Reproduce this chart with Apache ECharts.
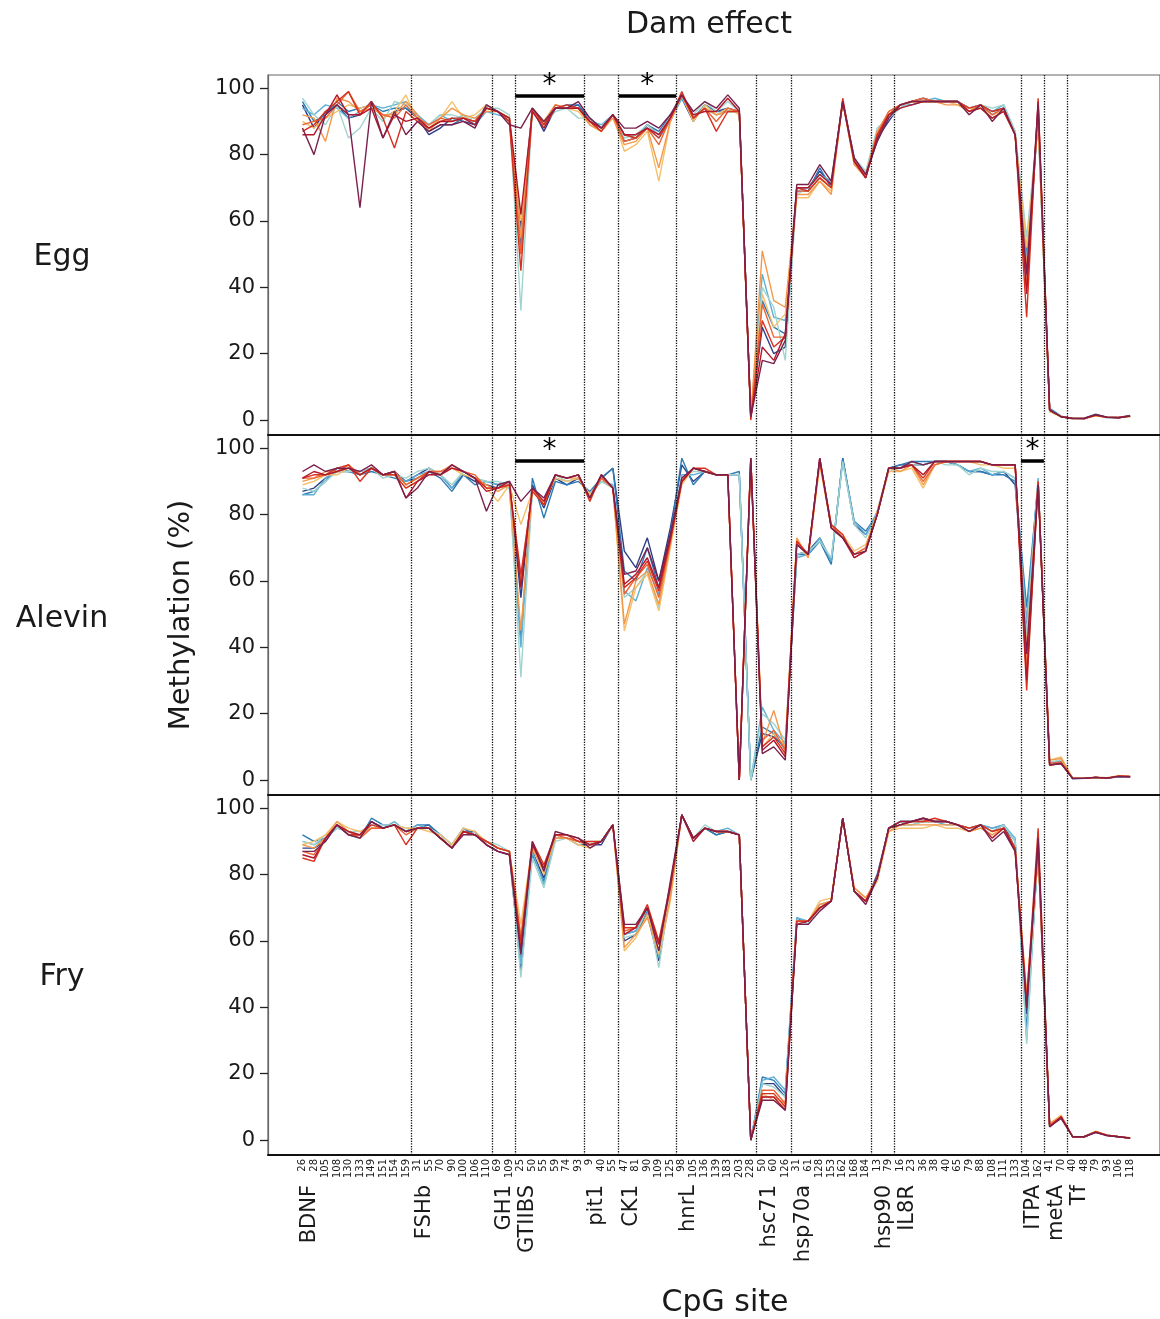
<!DOCTYPE html>
<html>
<head>
<meta charset="utf-8">
<script src="https://cdn.jsdelivr.net/npm/echarts@6/dist/echarts.min.js"></script>
<style>
	html, body { margin: 0; padding: 0; background: #fff; }
	#chart { width: 1160px; height: 1319px; }
</style>
</head>
<body>
<div id="chart"></div>
<script>
var cpgSites = [
	'26','28','105','108','130','133','149','151','154','159',
	'31','55','70','90','100','106','110',
	'69','109',
	'25','50','55','59','74','93',
	'9','40','55',
	'47','81','90','109','125',
	'98','105','136','139','183','203','228',
	'50','60','126',
	'31','61','128','153','162','168','184',
	'13','79',
	'16','23','36','38','40','65','79','88','108','111','133',
	'104','162',
	'41','70',
	'40','48','79','93','106','118'
];
var genes     = ['BDNF','FSHb','GH1','GTIIBS','pit1','CK1','hnrL','hsc71','hsp70a','hsp90','IL8R','ITPA','metA','Tf'];
var geneSizes = [10, 7, 2, 6, 3, 5, 7, 3, 7, 2, 11, 2, 2, 6];

var stageNames = ['Egg', 'Alevin', 'Fry'];
var damColors  = ['#2d3e86', '#2b7bb5', '#5fb0d6', '#9fd4cf', '#f4c06a', '#f3984a', '#ec6435', '#d7301f', '#b2182b', '#7b1f4b'];

// significant genes per stage (bars with *)
var eggSigGenes    = ['GTIIBS', 'CK1'];
var alevinSigGenes = ['GTIIBS', 'ITPA'];
var frySigGenes    = [];

var eggDams = [
	[95,88,93,95,91,92,96,91,93,94, 91,86,88,91,90,89,95,93,90, 58,94,87,94,94,95, 90,87,92, 84,85,89,86,91, 97,90,95,93,94,93,1, 28,20,22, 70,70,75,71,96,79,74, 85,90, 95,96,97,96,96,96,94,95,93,94,86, 42,92, 3,1, 0.5,0.4,1.6,0.8,0.7,1.3],
	[96,90,92,96,93,94,95,93,94,94, 92,87,89,89,91,90,94,93,91, 52,94,89,94,95,95, 91,88,92, 86,85,89,87,92, 97,91,95,93,93,93,1.5, 36,28,26, 69,69,76,70,96,78,74, 84,92, 95,95,96,96,96,96,93,95,92,94,86, 50,90, 3.5,1.2, 0.5,0.6,1.8,0.9,0.8,1.4],
	[94,92,95,94,91,93,95,94,95,96, 92,89,92,90,92,89,93,92,91, 55,94,90,94,94,94, 90,89,92, 86,86,88,85,90, 97,91,94,92,93,93,1, 44,31,30, 70,70,74,72,96,78,73, 86,92, 94,96,96,97,96,96,94,95,93,95,87, 48,91, 3,1, 0.4,0.5,1.5,0.7,0.8,1.2],
	[97,92,89,95,85,88,94,90,96,95, 91,89,92,92,91,91,94,94,92, 33,94,89,93,94,91, 91,88,92, 85,86,89,86,91, 98,92,96,93,96,93,1, 40,34,18, 68,70,73,70,96,79,75, 88,91, 94,96,96,96,96,96,94,95,94,95,87, 55,90, 3,1, 0.5,0.5,1.4,0.8,0.9,1],
	[90,88,91,93,95,94,95,91,93,98, 90,88,91,96,91,92,95,93,91, 60,93,90,95,94,93, 89,87,92, 81,83,87,72,90, 98,90,95,92,94,92,1, 38,28,32, 67,67,72,69,96,77,74, 86,92, 95,96,96,96,96,95,94,94,92,93,86, 52,90, 2.5,1, 0.5,0.5,1.2,0.8,0.8,1],
	[92,91,84,97,96,93,94,92,92,96, 92,87,91,94,92,91,93,93,91, 55,94,90,95,94,94, 89,87,91, 83,84,88,76,90, 98,91,94,92,93,93,0.5, 51,36,34, 68,68,72,68,96,77,73, 87,93, 95,96,96,96,95,95,93,94,91,93,86, 46,92, 3,1, 0.6,0.5,1.3,0.9,0.7,1.1],
	[89,90,91,95,99,93,95,92,91,95, 91,89,91,90,91,90,94,93,91, 50,93,89,95,94,94, 90,88,92, 84,85,88,83,91, 98,91,94,90,94,93,0.5, 35,25,25, 69,69,73,70,96,78,74, 86,93, 95,96,97,96,96,96,93,95,92,94,86, 40,93, 3,1, 0.4,0.5,1.4,0.8,0.8,1.2],
	[87,89,93,96,99,92,96,91,82,93, 90,88,90,91,91,90,94,93,90, 45,94,89,94,95,94, 90,87,92, 86,85,88,85,91, 99,91,94,87,93,93,0, 30,22,25, 70,69,73,70,97,78,73, 86,92, 95,96,96,96,96,96,94,95,93,94,86, 31,97, 3,1, 0.5,0.4,1.5,0.8,0.8,1.2],
	[86,86,92,98,92,92,94,85,92,90, 91,88,90,90,91,89,94,93,91, 62,93,88,94,94,94, 90,88,92, 86,86,88,86,91, 98,92,93,93,97,93,1, 22,18,26, 70,70,74,71,96,78,73, 85,92, 94,95,96,96,96,96,93,94,91,93,86, 38,96, 3,1, 0.5,0.5,1.6,0.8,0.7,1.3],
	[88,80,92,95,92,64,96,85,93,86, 90,87,89,89,90,88,95,93,89, 88,94,90,94,94,96, 91,88,92, 88,88,90,88,92, 98,93,96,94,98,94,1, 18,17,24, 71,71,77,72,96,79,74, 84,91, 95,96,96,96,96,96,92,95,90,94,86, 44,95, 3,1, 0.5,0.5,1.6,0.9,0.7,1.2]
];

var alevinDams = [
	[87,88,91,93,93,93,94,92,93,90, 92,94,92,88,92,90,89,88,90, 55,89,82,91,89,91, 86,91,94, 69,64,73,60,76, 95,90,93,92,92,92,0, 14,13,10, 68,69,73,66,97,77,74, 80,94, 95,95,95,96,96,95,93,93,92,93,89, 45,90, 5,5.5, 0.4,0.5,0.8,0.6,1,1],
	[86,87,90,94,93,92,93,92,91,90, 91,93,91,87,92,89,90,89,90, 42,91,79,90,89,90, 87,91,94, 63,60,70,58,74, 97,89,93,92,92,93,0, 16,14,9, 68,68,72,65,97,78,75, 80,94, 95,96,96,96,96,95,93,93,92,92,90, 52,90, 5,5, 0.5,0.5,0.8,0.6,1,0.8],
	[86,86,91,93,94,92,94,92,92,90, 92,93,92,88,93,91,90,89,88, 40,88,84,91,90,91, 86,90,89, 57,54,64,56,72, 92,92,93,92,92,92,0, 22,15,11, 67,68,73,66,96,78,74, 81,94, 94,96,95,96,96,95,93,94,92,93,91, 48,91, 5,6, 0.5,0.6,0.8,0.6,1,1],
	[88,87,90,93,93,93,94,91,92,91, 93,94,92,89,93,91,90,90,89, 31,87,84,92,90,91, 86,90,88, 55,58,63,52,71, 91,93,93,92,92,92,0, 20,17,12, 68,69,72,67,96,77,73, 80,93, 94,95,95,96,95,95,92,94,93,93,91, 44,90, 5.5,6, 0.5,0.5,0.7,0.6,1.2,1],
	[89,90,92,92,94,92,94,92,92,88, 90,93,92,94,92,91,88,84,89, 77,87,84,91,90,91, 86,91,88, 45,58,62,51,70, 89,94,93,92,92,0,97, 10,14,10, 72,67,95,76,74,69,71, 80,93, 93,94,88,95,96,96,96,95,95,94,94, 40,90, 6,7, 0.5,0.6,0.8,0.6,1.2,1.1],
	[90,91,93,93,95,92,94,92,93,89, 91,93,93,95,93,91,89,87,89, 45,88,83,92,91,91, 85,91,88, 47,60,63,53,71, 90,94,93,92,92,0,97, 11,21,9, 73,67,96,76,73,68,70, 81,94, 93,95,89,95,96,96,96,96,95,95,95, 35,90, 6,6.5, 0.5,0.6,0.9,0.7,1.3,1.2],
	[91,91,92,93,95,92,94,92,93,89, 91,93,93,94,93,92,88,88,89, 60,88,83,92,91,92, 85,91,88, 56,61,65,55,72, 90,94,93,92,92,0,97, 12,15,9, 72,68,96,77,73,68,70, 80,94, 94,95,90,95,96,96,96,96,95,95,95, 32,90, 5,5.5, 0.5,0.5,0.8,0.6,1.2,1],
	[91,92,92,94,95,90,94,92,92,88, 90,93,92,95,93,91,88,88,89, 62,87,83,92,91,92, 84,92,88, 58,61,66,57,72, 90,94,94,92,92,0,97, 10,13,8, 72,68,97,77,74,67,69, 80,94, 94,95,91,96,96,96,96,96,95,95,95, 27,90, 4.5,5, 0.5,0.5,0.8,0.6,1.2,1.1],
	[91,93,92,93,94,92,94,92,93,85, 90,92,92,94,93,91,87,88,90, 58,88,84,92,91,92, 85,92,88, 59,62,67,58,73, 90,94,93,92,92,0,97, 9,12,7, 71,68,97,76,73,67,69, 80,94, 94,95,92,96,96,96,96,96,95,95,95, 30,89, 4.5,5, 0.5,0.5,0.8,0.6,1.1,1],
	[93,95,93,94,94,93,95,92,93,85, 88,93,92,95,93,91,81,89,90, 84,88,85,92,91,92, 85,92,88, 62,63,70,60,74, 91,94,93,92,92,0,97, 8,10,6, 71,68,97,76,73,68,69, 80,94, 94,96,95,96,96,96,96,96,95,95,95, 38,89, 4.5,5, 0.5,0.5,0.8,0.6,1.1,1]
];

var fryDams = [
	[88,88,90,95,92,92,96,94,95,93, 94,95,91,88,93,93,89,87,86, 51,87,79,91,91,89, 89,89,95, 60,62,68,54,74, 98,91,94,92,93,92,0, 17,17,13, 66,66,70,72,97,75,72, 80,94, 96,96,97,96,96,95,94,95,93,95,88, 38,87, 4,7, 1,1,2.5,1.4,1,0.6],
	[92,90,91,95,92,91,97,95,95,93, 95,95,92,89,94,92,90,88,87, 55,86,78,91,91,90, 89,90,95, 62,63,69,56,75, 98,91,94,92,93,92,0, 19,18,14, 67,65,70,72,97,75,72, 79,94, 96,96,96,96,96,95,93,95,94,95,90, 33,88, 4.5,7, 1,1,2.3,1.5,1,0.6],
	[90,89,91,94,93,92,96,94,96,93, 95,94,92,89,93,92,90,88,87, 53,87,77,91,91,90, 89,90,95, 62,63,70,55,76, 98,91,94,93,94,92,0, 18,19,15, 67,66,71,72,97,75,72, 79,94, 95,95,96,96,95,95,94,95,94,95,91, 30,88, 4.5,7, 1,1,2.5,1.5,1,0.6],
	[90,89,92,94,93,93,95,95,95,94, 94,94,92,89,93,92,90,89,87, 49,85,76,90,91,89, 90,90,95, 61,62,70,52,75, 98,91,95,93,93,92,0, 17,16,13, 66,65,70,72,97,75,72, 78,93, 95,95,96,96,96,95,94,95,93,95,90, 29,89, 4.5,7.5, 1,1,2.6,1.5,1,0.6],
	[89,90,92,96,94,93,94,94,95,94, 94,93,92,89,94,93,90,88,87, 65,89,80,91,91,89, 88,90,95, 57,61,68,56,72, 98,91,94,93,93,92,0, 14,12,10, 66,66,72,73,97,76,73, 78,93, 94,94,94,95,94,94,93,94,92,94,88, 42,87, 5,7.5, 1,1,2.6,1.4,1,0.7],
	[89,88,91,96,93,92,94,94,95,93, 94,94,91,88,93,92,90,88,87, 62,88,81,91,91,90, 89,90,95, 58,62,67,57,73, 98,91,94,93,93,92,0, 13,13,11, 66,66,71,72,97,76,73, 79,93, 95,95,95,95,95,95,93,94,92,94,88, 44,88, 5,7, 1,1,2.6,1.5,1,0.7],
	[87,86,91,95,93,91,94,94,95,92, 94,94,91,88,93,92,90,88,87, 59,89,82,92,91,90, 89,90,95, 63,64,70,59,76, 98,91,94,93,93,92,0, 15,15,11, 66,66,70,72,97,75,72, 79,94, 95,96,96,96,96,95,94,95,93,94,88, 41,88, 4.5,7, 1,1,2.5,1.4,1,0.6],
	[85,84,91,95,92,92,95,94,95,89, 94,94,91,88,93,92,90,88,87, 60,90,83,92,92,90, 90,90,95, 64,64,71,60,77, 98,91,94,93,93,92,0, 14,14,10, 66,66,70,72,97,75,72, 79,94, 95,96,96,97,96,95,94,95,93,94,88, 42,94, 4,7, 1,1,2.5,1.5,1,0.6],
	[86,85,91,95,93,92,96,94,95,93, 94,94,91,88,93,92,89,87,86, 57,89,82,92,92,91, 89,90,95, 62,64,70,59,76, 98,90,94,93,93,92,0, 13,13,9, 65,66,70,72,97,75,72, 79,94, 96,96,97,96,96,95,93,95,91,94,87, 40,90, 4,7, 1,1,2.3,1.4,1,0.6],
	[87,87,90,95,92,91,96,94,95,93, 94,94,91,88,92,92,89,87,86, 56,90,81,93,92,91, 88,90,95, 65,65,70,57,78, 98,91,94,93,93,92,0, 12,12,9, 65,65,69,72,97,75,71, 79,94, 95,96,97,96,96,95,93,95,90,93,87, 40,91, 4,6.5, 1,1,2.3,1.3,1,0.6]
];


var chartRootElement = document.getElementById('chart');
var echart = echarts.init(chartRootElement, null, { renderer: 'canvas' });

var fontFamily = '"DejaVu Sans", Verdana, sans-serif';
var textColor = '#1a1a1a';

// gene start indices and gene boundaries (between consecutive genes)
var geneStarts = [];
var geneBoundaries = [];
(function () {
	var pos = 0;
	for (var g = 0; g < geneSizes.length; g++) {
		geneStarts.push(pos);
		if (g > 0) geneBoundaries.push(pos - 0.5);
		pos += geneSizes[g];
	}
})();

var panelTops = [75, 435, 795];
var panelHeight = 360;
var sigBarY = [97.8, 96.2, 96.2];
var stages = [eggDams, alevinDams, fryDams];
var stageSig = [eggSigGenes, alevinSigGenes, frySigGenes];

function makeMarkLine(p) {
	var data = geneBoundaries.map(function (b) {
		return { xAxis: b };
	});
	stageSig[p].forEach(function (name) {
		var g = genes.indexOf(name);
		var x0 = geneStarts[g] - 0.5;
		var x1 = geneStarts[g] + geneSizes[g] - 0.5;
		data.push([
			{
				coord: [x0, sigBarY[p]],
				lineStyle: { type: 'solid', width: 3.5, color: '#000' },
				label: {
					show: true,
					formatter: '*',
					position: 'middle',
					distance: -4,
					fontSize: 28,
					fontFamily: fontFamily,
					color: '#000'
				}
			},
			{ coord: [x1, sigBarY[p]] }
		]);
	});
	return {
		silent: true,
		symbol: 'none',
		animation: false,
		label: { show: false },
		lineStyle: { type: 'dotted', color: '#111', width: 1.3 },
		data: data
	};
}

var grids = [];
var xAxes = [];
var yAxes = [];
var series = [];

for (var p = 0; p < 3; p++) {
	grids.push({
		left: 268,
		right: 0,
		top: panelTops[p],
		height: panelHeight,
		show: true,
		borderColor: '#666',
		borderWidth: 1.2
	});

	xAxes.push({
		type: 'value',
		gridIndex: p,
		min: -3,
		max: 74.6,
		interval: 1,
		axisLine: { show: true, onZero: false, lineStyle: { color: '#111', width: 2 } },
		axisTick: { show: false },
		splitLine: { show: false },
		axisLabel: {
			show: p === 2,
			rotate: 90,
			margin: 4,
			fontSize: 10,
			fontFamily: fontFamily,
			color: textColor,
			showMinLabel: true,
			showMaxLabel: false,
			formatter: function (v) {
				return (v >= 0 && v < cpgSites.length && v === Math.round(v)) ? cpgSites[v] : '';
			}
		}
	});

	yAxes.push({
		type: 'value',
		gridIndex: p,
		min: -4.5,
		max: 104,
		splitNumber: 5,
		name: p === 1 ? 'Methylation (%)' : '',
		nameLocation: 'middle',
		nameRotate: 90,
		nameGap: 72,
		nameTextStyle: { fontSize: 29, fontFamily: fontFamily, color: textColor },
		axisLine: { show: true, onZero: false, lineStyle: { color: '#666', width: 1.2 } },
		axisTick: { show: true, inside: false, length: 8, lineStyle: { color: '#222', width: 1.3 } },
		splitLine: { show: false },
		axisLabel: {
			margin: 13,
			fontSize: 21,
			fontFamily: fontFamily,
			color: textColor,
			showMinLabel: false,
			showMaxLabel: false,
			formatter: function (v) {
				return (v >= 0 && v <= 100 && v % 20 === 0) ? String(v) : '';
			}
		}
	});

	stages[p].forEach(function (values, d) {
		series.push({
			type: 'line',
			xAxisIndex: p,
			yAxisIndex: p,
			symbol: 'none',
			silent: true,
			z: 3,
			data: values.map(function (v, i) { return [i, v]; }),
			lineStyle: { width: 1.4, color: damColors[d] },
			itemStyle: { color: damColors[d] },
			markLine: d === 0 ? makeMarkLine(p) : undefined
		});
	});
}

// gene names under the CpG site labels
xAxes.push({
	type: 'value',
	gridIndex: 2,
	position: 'bottom',
	min: -3,
	max: 74.6,
	interval: 1,
	axisLine: { show: false },
	axisTick: { show: false },
	splitLine: { show: false },
	axisLabel: {
		rotate: 90,
		margin: 30,
		fontSize: 21,
		lineHeight: 14,
		verticalAlign: 'top',
		fontFamily: fontFamily,
		color: textColor,
		formatter: function (v) {
			var g = geneStarts.indexOf(v);
			return g >= 0 ? genes[g] : '';
		}
	}
});

var titles = [
	{ text: 'Dam effect', left: 704, top: 5, textAlign: 'center',
		textStyle: { fontSize: 30, fontWeight: 'normal', fontFamily: fontFamily, color: textColor } },
	{ text: 'CpG site', left: 720, top: 1283, textAlign: 'center',
		textStyle: { fontSize: 30, fontWeight: 'normal', fontFamily: fontFamily, color: textColor } }
];
var labelTops = [237, 599, 957];
stageNames.forEach(function (name, p) {
	titles.push({
		text: name, left: 57, top: labelTops[p], textAlign: 'center',
		textStyle: { fontSize: 30, fontWeight: 'normal', fontFamily: fontFamily, color: textColor }
	});
});

var eChartOptions = {
	animation: false,
	backgroundColor: '#fff',
	title: titles,
	grid: grids,
	xAxis: xAxes,
	yAxis: yAxes,
	series: series
};

echart.setOption(eChartOptions);
</script>
</body>
</html>
